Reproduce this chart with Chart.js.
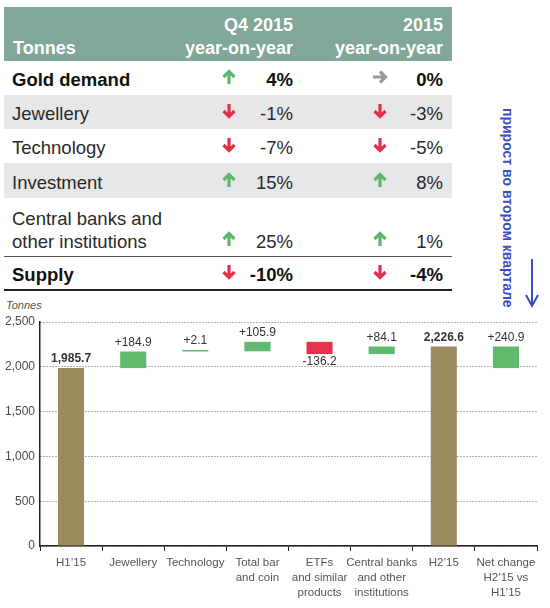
<!DOCTYPE html>
<html>
<head>
<meta charset="utf-8">
<script src="https://cdn.jsdelivr.net/npm/chart.js@4.4.0/dist/chart.umd.min.js"></script>
<style>
  body{margin:0;background:#fff;font-family:'Liberation Sans',Arial,sans-serif;}
  #page{position:relative;width:550px;height:608px;overflow:hidden;background:#fff;}
  .band{position:absolute;left:4px;width:448px;}
  .txt{position:absolute;white-space:nowrap;line-height:1;transform:translateY(-50%);color:#2a2a2a;font-size:18.5px;}
  .hd{color:#fff;font-weight:bold;font-size:18px;}
  .r{text-align:right;}
  .arrow{position:absolute;transform:translate(-50%,-50%);}
  #note{position:absolute;left:500px;top:108px;writing-mode:vertical-rl;font-weight:bold;font-size:14px;color:#3c4dc4;white-space:nowrap;}
  #unit{position:absolute;left:6px;top:299px;font-size:11px;font-style:italic;color:#555;}
  #chart{position:absolute;left:0;top:296px;}
</style>
</head>
<body>
<div id="page">
  <div id="table"></div>
  <div id="note">прирост во втором квартале</div>
  <svg style="position:absolute;left:522px;top:256px" width="20" height="54">
    <path d="M10,3 L10,50 M4,39 L10,50 L16,39" stroke="#3c4dc4" stroke-width="2" fill="none"/>
  </svg>
  <div id="unit">Tonnes</div>
  <canvas id="chart" width="550" height="312"></canvas>
</div>
<script>
// table data
const rowLabels = ['Gold demand', 'Jewellery', 'Technology', 'Investment', 'Central banks and|other institutions', 'Supply'];
const q4Change = ['4%', '-1%', '-7%', '15%', '25%', '-10%'];
const q4Dir = ['up', 'down', 'down', 'up', 'up', 'down'];
const yearChange = ['0%', '-3%', '-5%', '8%', '1%', '-4%'];
const yearDir = ['flat', 'down', 'down', 'up', 'up', 'down'];

// chart data
const categories = [["H1’15"], ['Jewellery'], ['Technology'], ['Total bar', 'and coin'],
  ['ETFs', 'and similar', 'products'], ['Central banks', 'and other', 'institutions'],
  ["H2’15"], ['Net change', "H2’15 vs", "H1’15"]];
const values = [1985.7, 184.9, 2.1, 105.9, -136.2, 84.1, 2226.6, 240.9];
const valueLabels = ['1,985.7', '+184.9', '+2.1', '+105.9', '-136.2', '+84.1', '2,226.6', '+240.9'];
const barKinds = ['total', 'step', 'step', 'step', 'step', 'step', 'total', 'net'];
const yTicks = [0, 500, 1000, 1500, 2000, 2500];

// table layout
const rowTops = [61, 95, 129, 163, 198, 257];
const rowHeights = [34, 34, 34, 35, 58, 32];
const rowShaded = [false, true, false, true, false, false];
const rowBold = [true, false, false, false, false, true];

function arrowSvg(dir){
  const col = dir === 'up' ? '#5db66d' : dir === 'down' ? '#e5304a' : '#9a9a9a';
  const rot = dir === 'up' ? 0 : dir === 'down' ? 180 : 90;
  return '<svg width="16" height="16" viewBox="0 0 16 16"><g transform="rotate(' + rot + ' 8 8)">' +
    '<path d="M8,2.5 L8,15 M2.5,8 L8,2.5 L13.5,8" stroke="' + col + '" stroke-width="3.2" fill="none"/></g></svg>';
}

let html = '<div class="band" style="top:7px;height:54px;background:#80a797"></div>';
html += '<div class="txt hd" style="left:13px;top:48px">Tonnes</div>';
html += '<div class="txt hd r" style="right:257px;top:25px">Q4 2015</div>';
html += '<div class="txt hd r" style="right:257px;top:48px">year-on-year</div>';
html += '<div class="txt hd r" style="right:107px;top:25px">2015</div>';
html += '<div class="txt hd r" style="right:107px;top:48px">year-on-year</div>';
rowLabels.forEach(function(lbl, i){
  const t = rowTops[i], h = rowHeights[i];
  if (rowShaded[i]) html += '<div class="band" style="top:' + t + 'px;height:' + h + 'px;background:#e6e7e8"></div>';
  const w = rowBold[i] ? 'font-weight:bold;color:#111;' : '';
  const lines = lbl.split('|');
  let cy = t + h / 2 + 2;
  if (lines.length > 1) {
    html += '<div class="txt" style="' + w + 'left:12px;top:' + (t + 21) + 'px">' + lines[0] + '</div>';
    cy = t + 44;
    html += '<div class="txt" style="' + w + 'left:12px;top:' + cy + 'px">' + lines[1] + '</div>';
  } else {
    html += '<div class="txt" style="' + w + 'left:12px;top:' + cy + 'px">' + lines[0] + '</div>';
  }
  html += '<div class="arrow" style="left:229px;top:' + (cy - 1) + 'px">' + arrowSvg(q4Dir[i]) + '</div>';
  html += '<div class="txt r" style="' + w + 'right:257px;top:' + cy + 'px">' + q4Change[i] + '</div>';
  html += '<div class="arrow" style="left:380px;top:' + (cy - 1) + 'px">' + arrowSvg(yearDir[i]) + '</div>';
  html += '<div class="txt r" style="' + w + 'right:107px;top:' + cy + 'px">' + yearChange[i] + '</div>';
});
html += '<div class="band" style="top:256px;height:1px;background:#555"></div>';
html += '<div class="band" style="top:289px;height:2px;background:#222"></div>';
document.getElementById('table').innerHTML = html;

// waterfall ranges
let running = 0;
const ranges = values.map(function(v, i){
  if (barKinds[i] === 'total') { running = v; return [0, v]; }
  if (barKinds[i] === 'net') return [values[0], values[0] + v];
  const r = [running, running + v];
  running += v;
  return r;
});
const colors = values.map(function(v, i){
  if (barKinds[i] === 'total') return '#9d8a5f';
  return v < 0 ? '#e6334b' : '#60b96d';
});

const barLabels = {
  id: 'barLabels',
  afterDatasetsDraw(chart){
    const ctx = chart.ctx;
    chart.getDatasetMeta(0).data.forEach(function(bar, i){
      const top = Math.min(bar.y, bar.base), bottom = Math.max(bar.y, bar.base);
      ctx.save();
      ctx.font = (barKinds[i] === 'total' ? 'bold ' : '') + '12px "Liberation Sans"';
      ctx.fillStyle = '#333';
      ctx.textAlign = 'center';
      if (values[i] < 0) {
        ctx.textBaseline = 'top';
        ctx.fillText(valueLabels[i], bar.x, bottom + 2);
      } else {
        ctx.textBaseline = 'bottom';
        ctx.fillText(valueLabels[i], bar.x, top - 3);
      }
      ctx.restore();
    });
  }
};

Chart.defaults.font.family = '"Liberation Sans", Arial, sans-serif';
new Chart(document.getElementById('chart'), {
  type: 'bar',
  data: {
    labels: categories,
    datasets: [{
      data: ranges,
      backgroundColor: colors,
      borderWidth: 0,
      minBarLength: 1.5,
      categoryPercentage: 1,
      barPercentage: 0.42
    }]
  },
  options: {
    responsive: false,
    animation: false,
    devicePixelRatio: 1,
    layout: {padding: {top: 26, right: 13, left: 0, bottom: 0}},
    plugins: {legend: {display: false}, tooltip: {enabled: false}},
    scales: {
      x: {
        grid: {drawOnChartArea: false, drawTicks: true, tickLength: 5, tickColor: '#222', offset: true},
        border: {color: '#222', width: 1.5},
        ticks: {color: '#555', font: {size: 11.5, lineHeight: 1.3}, padding: 4, maxRotation: 0, autoSkip: false},
        afterFit(scale){ scale.height = 62; }
      },
      y: {
        min: 0, max: 2500,
        afterBuildTicks(scale){ scale.ticks = yTicks.map(function(v){ return {value: v}; }); },
        grid: {color: '#666', lineWidth: 1, drawTicks: false},
        border: {color: '#222', width: 1.5, dash: [1, 2]},
        ticks: {color: '#4a4a4a', font: {size: 12}, padding: 5,
          callback: function(v){ return v.toLocaleString('en-US'); }},
        afterFit(scale){ scale.width = 40; }
      }
    }
  },
  plugins: [barLabels]
});
</script>
</body>
</html>
